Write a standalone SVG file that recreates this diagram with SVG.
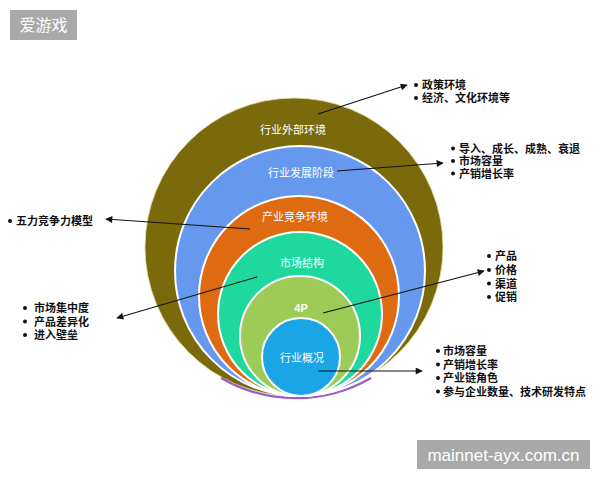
<svg xmlns="http://www.w3.org/2000/svg" width="600" height="480" viewBox="0 0 600 480">
<defs>
<style>
.ring{stroke:#ffffff;stroke-width:2}
.lbl{font-family:"Liberation Sans","Noto Sans CJK SC",sans-serif;font-size:11px;fill:#ffffff;text-anchor:middle}
.lst{font-family:"Liberation Sans","Noto Sans CJK SC",sans-serif;font-size:11px;font-weight:700;fill:#111111}
.dot{fill:#111111}
.conn{stroke:#111111;stroke-width:1.1;fill:none}
.wm{fill:#a9a9a9}
.wmt{fill:#ffffff;font-family:"Liberation Sans","Noto Sans CJK SC",sans-serif}
</style>
<marker id="ah" viewBox="0 0 10 10" refX="9" refY="5" markerWidth="8" markerHeight="7" markerUnits="userSpaceOnUse" orient="auto">
<path d="M0,0 L10,5 L0,10 z" fill="#111111"/>
</marker>
</defs>
<rect width="600" height="480" fill="#ffffff"/>

<g id="watermark-top">
<rect class="wm" x="10" y="10" width="67" height="30"/>
<text class="wmt" x="43.5" y="31" font-size="16" text-anchor="middle">爱游戏</text>
</g>

<g id="node-outer">
<circle cx="294" cy="247" r="149" fill="#7b6a0b" stroke="#e8e0a0" stroke-width="0.8"/>
<path d="M 221 378 A 150 150 0 0 0 371 378" fill="none" stroke="#9a5cc6" stroke-width="2.2"/>
<text class="lbl" x="293" y="134">行业外部环境</text>
</g>
<g id="node-stage">
<circle class="ring" cx="300" cy="271" r="125" fill="#6699ee"/>
<text class="lbl" x="301" y="177">行业发展阶段</text>
</g>
<g id="node-competition">
<circle class="ring" cx="299" cy="296" r="100" fill="#de6a12"/>
<text class="lbl" x="295" y="221">产业竞争环境</text>
</g>
<g id="node-structure">
<circle class="ring" cx="300" cy="314" r="82" fill="#1fd89e"/>
<text class="lbl" x="302" y="267">市场结构</text>
</g>
<g id="node-4p">
<circle class="ring" cx="300" cy="336" r="60" fill="#9ccb58"/>
<text class="lbl" x="301" y="312" font-weight="700">4P</text>
</g>
<g id="node-overview">
<circle class="ring" cx="301" cy="357" r="39" fill="#1aa6e6"/>
<text class="lbl" x="302" y="362">行业概况</text>
</g>

<g id="connectors">
<line class="conn" x1="318" y1="114" x2="407" y2="85" marker-end="url(#ah)"/>
<line class="conn" x1="337" y1="171" x2="443" y2="163" marker-end="url(#ah)"/>
<line class="conn" x1="250" y1="229" x2="106" y2="219" marker-end="url(#ah)"/>
<line class="conn" x1="257" y1="277" x2="117" y2="318" marker-end="url(#ah)"/>
<line class="conn" x1="323" y1="313" x2="484" y2="271" marker-end="url(#ah)"/>
<line class="conn" x1="318" y1="371" x2="422" y2="371" marker-end="url(#ah)"/>
</g>

<g id="list-outer">
<circle class="dot" cx="416" cy="85" r="2"/>
<circle class="dot" cx="416" cy="98" r="2"/>
<text class="lst"><tspan x="422" y="89">政策环境</tspan><tspan x="422" y="102">经济、文化环境等</tspan></text>
</g>
<g id="list-stage">
<circle class="dot" cx="453" cy="148.5" r="2"/>
<circle class="dot" cx="453" cy="161" r="2"/>
<circle class="dot" cx="453" cy="173.5" r="2"/>
<text class="lst"><tspan x="459" y="152.5">导入、成长、成熟、衰退</tspan><tspan x="459" y="165">市场容量</tspan><tspan x="459" y="177.5">产销增长率</tspan></text>
</g>
<g id="list-competition">
<circle class="dot" cx="10" cy="221" r="2"/>
<text class="lst" x="16" y="225">五力竞争力模型</text>
</g>
<g id="list-structure">
<circle class="dot" cx="25" cy="308" r="2"/>
<circle class="dot" cx="25" cy="321.5" r="2"/>
<circle class="dot" cx="25" cy="335" r="2"/>
<text class="lst"><tspan x="34" y="312">市场集中度</tspan><tspan x="34" y="325.5">产品差异化</tspan><tspan x="34" y="339">进入壁垒</tspan></text>
</g>
<g id="list-4p">
<circle class="dot" cx="489" cy="256" r="2"/>
<circle class="dot" cx="489" cy="270" r="2"/>
<circle class="dot" cx="489" cy="283.5" r="2"/>
<circle class="dot" cx="489" cy="297" r="2"/>
<text class="lst"><tspan x="495" y="260">产品</tspan><tspan x="495" y="274">价格</tspan><tspan x="495" y="287.5">渠道</tspan><tspan x="495" y="301">促销</tspan></text>
</g>
<g id="list-overview">
<circle class="dot" cx="438" cy="351" r="2"/>
<circle class="dot" cx="438" cy="364.5" r="2"/>
<circle class="dot" cx="438" cy="378" r="2"/>
<circle class="dot" cx="438" cy="391.5" r="2"/>
<text class="lst"><tspan x="443" y="355">市场容量</tspan><tspan x="443" y="368.5">产销增长率</tspan><tspan x="443" y="382">产业链角色</tspan><tspan x="443" y="395.5">参与企业数量、技术研发特点</tspan></text>
</g>

<g id="watermark-bottom">
<rect class="wm" x="417" y="440" width="173" height="29"/>
<text class="wmt" x="503.5" y="461" font-size="17" text-anchor="middle">mainnet-ayx.com.cn</text>
</g>
</svg>
